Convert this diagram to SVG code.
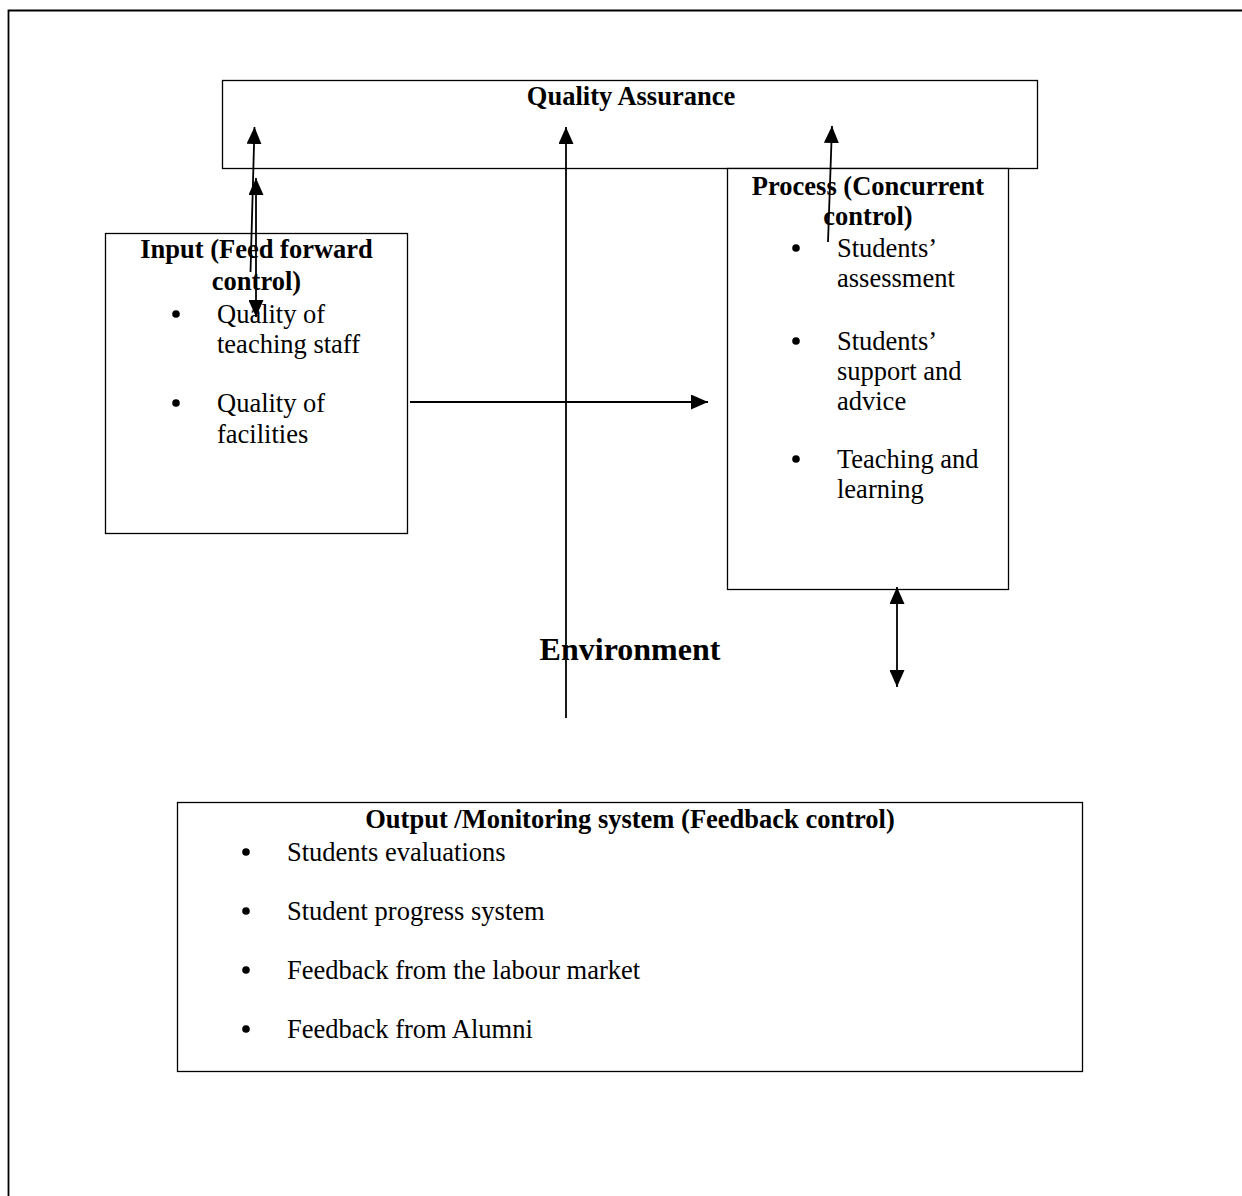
<svg xmlns="http://www.w3.org/2000/svg" width="1242" height="1196" viewBox="0 0 1242 1196">
<style>
.box{fill:#fff;stroke:#000;stroke-width:1.3}
.t{font-family:"Liberation Serif","Times New Roman",serif;font-size:26.5px;fill:#000}
.b{font-weight:bold}
.c{text-anchor:middle}
.ln{stroke:#000;stroke-width:1.8;fill:none}
</style>
<defs>
<marker id="ah" markerUnits="userSpaceOnUse" markerWidth="17" markerHeight="15" refX="17" refY="7.5" orient="auto-start-reverse" viewBox="0 0 17 15">
<path d="M0,0 L17,7.5 L0,15 z" fill="#000"/>
</marker>
</defs>
<rect width="1242" height="1196" fill="#fff"/>
<g id="frame">
<path d="M8.5,1196 V10.5 H1242" class="ln" stroke-width="1.5"/>
</g>
<g id="qa">
<rect class="box" x="222.5" y="80.5" width="815" height="88"/>
<text class="t b c" x="631" y="105">Quality Assurance</text>
</g>
<g id="process">
<rect class="box" x="727.5" y="168.5" width="281" height="421"/>
<text class="t b c" x="868" y="195">Process (Concurrent</text>
<text class="t b c" x="868" y="225">control)</text>
<circle cx="796" cy="248" r="3.8"/>
<text class="t" x="837" y="257">Students’</text>
<text class="t" x="837" y="287">assessment</text>
<circle cx="796" cy="341" r="3.8"/>
<text class="t" x="837" y="350">Students’</text>
<text class="t" x="837" y="380">support and</text>
<text class="t" x="837" y="410">advice</text>
<circle cx="796" cy="459" r="3.8"/>
<text class="t" x="837" y="468">Teaching and</text>
<text class="t" x="837" y="498">learning</text>
</g>
<g id="input">
<rect class="box" x="105.5" y="233.5" width="302" height="300"/>
<text class="t b c" x="256.5" y="258">Input (Feed forward</text>
<text class="t b c" x="256.5" y="290">control)</text>
<circle cx="176" cy="314" r="3.8"/>
<text class="t" x="217" y="323">Quality of</text>
<text class="t" x="217" y="353">teaching staff</text>
<circle cx="176" cy="403" r="3.8"/>
<text class="t" x="217" y="412">Quality of</text>
<text class="t" x="217" y="443">facilities</text>
</g>
<g id="environment">
<text class="t b c" x="630" y="660" style="font-size:32px">Environment</text>
</g>
<g id="output">
<rect class="box" x="177.5" y="802.5" width="905" height="269"/>
<text class="t b c" x="630" y="828">Output /Monitoring system (Feedback control)</text>
<circle cx="246" cy="852" r="3.8"/>
<text class="t" x="287" y="861">Students evaluations</text>
<circle cx="246" cy="911" r="3.8"/>
<text class="t" x="287" y="920">Student progress system</text>
<circle cx="246" cy="970" r="3.8"/>
<text class="t" x="287" y="979">Feedback from the labour market</text>
<circle cx="246" cy="1029" r="3.8"/>
<text class="t" x="287" y="1038">Feedback from Alumni</text>
</g>
<g id="connectors">
<line class="ln" x1="250.5" y1="272" x2="254.5" y2="127" marker-end="url(#ah)"/>
<line class="ln" x1="256" y1="178" x2="256" y2="317" marker-start="url(#ah)" marker-end="url(#ah)"/>
<line class="ln" x1="566" y1="718" x2="566" y2="127" marker-end="url(#ah)"/>
<line class="ln" x1="828" y1="242" x2="832" y2="126" marker-end="url(#ah)"/>
<line class="ln" x1="410" y1="402" x2="708" y2="402" marker-end="url(#ah)"/>
<line class="ln" x1="897" y1="587" x2="897" y2="687" marker-start="url(#ah)" marker-end="url(#ah)"/>
</g>
</svg>
